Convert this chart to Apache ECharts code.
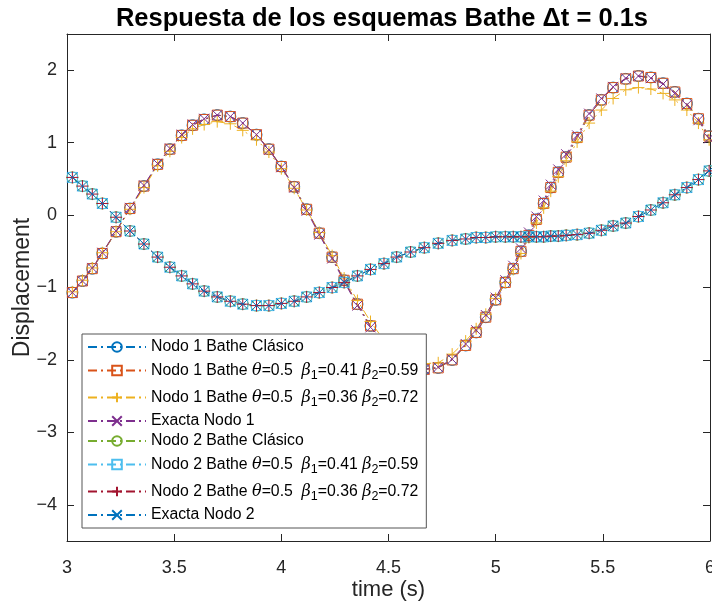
<!DOCTYPE html>
<html>
<head>
<meta charset="utf-8">
<script src="https://cdn.jsdelivr.net/npm/echarts@6/dist/echarts.min.js"></script>
<style>
  html, body { margin: 0; padding: 0; background: #fff; }
  #chart { width: 712px; height: 605px; }
</style>
</head>
<body>
<div id="chart"></div>
<script>
// time samples (s), shared by every series
const time = [3.025, 3.072, 3.118, 3.165, 3.229, 3.294, 3.359, 3.423, 3.480, 3.535,
  3.586, 3.640, 3.701, 3.762, 3.820, 3.884, 3.942, 4.000, 4.060, 4.118,
  4.177, 4.237, 4.293, 4.355, 4.416, 4.479, 4.538, 4.603, 4.667, 4.732,
  4.797, 4.860, 4.909, 4.954, 5.000, 5.045, 5.082, 5.118, 5.155, 5.190,
  5.224, 5.257, 5.292, 5.329, 5.380, 5.436, 5.493, 5.548, 5.607, 5.666,
  5.724, 5.781, 5.836, 5.892, 5.946, 5.996];

// Nodo 1
const node1Clasico = [-1.07, -0.91, -0.74, -0.53, -0.23, 0.09, 0.40, 0.70, 0.91, 1.10,
  1.24, 1.32, 1.38, 1.36, 1.27, 1.11, 0.91, 0.67, 0.39, 0.08,
  -0.25, -0.58, -0.90, -1.23, -1.53, -1.81, -1.97, -2.08, -2.13, -2.11,
  -2.00, -1.80, -1.62, -1.41, -1.17, -0.93, -0.74, -0.50, -0.28, -0.06,
  0.16, 0.38, 0.59, 0.80, 1.07, 1.38, 1.59, 1.76, 1.88, 1.92,
  1.90, 1.82, 1.70, 1.54, 1.33, 1.09];
const node1B41 = node1Clasico;
const node1B36 = [-1.06, -0.90, -0.73, -0.52, -0.23, 0.08, 0.38, 0.68, 0.88, 1.07,
  1.19, 1.25, 1.29, 1.26, 1.17, 1.04, 0.87, 0.64, 0.37, 0.07,
  -0.24, -0.56, -0.87, -1.18, -1.47, -1.73, -1.90, -2.00, -2.05, -2.04,
  -1.92, -1.74, -1.57, -1.37, -1.15, -0.93, -0.75, -0.53, -0.31, -0.11,
  0.10, 0.33, 0.53, 0.75, 1.01, 1.27, 1.45, 1.61, 1.73, 1.76,
  1.74, 1.68, 1.59, 1.45, 1.27, 1.04];
const node1Exacta = [-1.07, -0.91, -0.73, -0.52, -0.22, 0.10, 0.41, 0.71, 0.92, 1.11,
  1.25, 1.33, 1.38, 1.36, 1.27, 1.11, 0.90, 0.66, 0.38, 0.06,
  -0.27, -0.60, -0.92, -1.25, -1.55, -1.82, -1.98, -2.08, -2.13, -2.10,
  -1.99, -1.78, -1.59, -1.38, -1.14, -0.90, -0.70, -0.46, -0.24, -0.02,
  0.20, 0.42, 0.63, 0.84, 1.10, 1.40, 1.61, 1.77, 1.89, 1.92,
  1.89, 1.81, 1.68, 1.52, 1.31, 1.06];

// Nodo 2 (all schemes overlap)
const node2 = [0.52, 0.40, 0.29, 0.16, -0.03, -0.22, -0.40, -0.58, -0.72, -0.84,
  -0.95, -1.05, -1.13, -1.19, -1.23, -1.25, -1.25, -1.22, -1.19, -1.13,
  -1.07, -1.00, -0.93, -0.84, -0.75, -0.67, -0.58, -0.51, -0.45, -0.39,
  -0.35, -0.33, -0.31, -0.31, -0.30, -0.30, -0.30, -0.30, -0.30, -0.30,
  -0.30, -0.29, -0.29, -0.28, -0.27, -0.25, -0.21, -0.15, -0.11, -0.02,
  0.07, 0.17, 0.28, 0.38, 0.49, 0.61];

const xTicks = [3, 3.5, 4, 4.5, 5, 5.5, 6];
const yTicks = [-4, -3, -2, -1, 0, 1, 2];

const names = [
  'Nodo 1 Bathe Clásico',
  'Nodo 1 Bathe θ=0.5  β1=0.41 β2=0.59',
  'Nodo 1 Bathe θ=0.5  β1=0.36 β2=0.72',
  'Exacta Nodo 1',
  'Nodo 2 Bathe Clásico',
  'Nodo 2 Bathe θ=0.5  β1=0.41 β2=0.59',
  'Nodo 2 Bathe θ=0.5  β1=0.36 β2=0.72',
  'Exacta Nodo 2'
];
const colors = ['#0072BD', '#D95319', '#EDB120', '#7E2F8E', '#77AC30', '#4DBEEE', '#A2142F', '#0072BD'];

const PLUS = 'path://M0,5L10,5M5,0L5,10';
const CROSS = 'path://M0,0L10,10M10,0L0,10';
const marks = ['circle', 'rect', PLUS, CROSS, 'circle', 'rect', PLUS, CROSS];
const sizes = [11, 10, 12, 10, 11, 10, 12, 10];
const values = [node1Clasico, node1B41, node1B36, node1Exacta, node2, node2, node2, node2];

const axisColor = '#262626';
const font = 'Liberation Sans';

const myChart = echarts.init(document.getElementById('chart'));

const series = names.map((name, i) => ({
  name: name,
  type: 'line',
  data: time.map((t, k) => [t, values[i][k]]),
  symbol: marks[i],
  symbolSize: sizes[i],
  showAllSymbol: true,
  lineStyle: { color: colors[i], width: 1, type: [9, 4, 2, 4] },
  itemStyle: { color: 'rgba(0,0,0,0)', borderColor: colors[i], borderWidth: 1 },
  emphasis: { disabled: true }
}));

const legendText = (name) =>
  name.replace('θ', '{g|θ}').replace(/β(\d)/g, '{g|β}{s|$1}');
const minus = (v) => String(v).replace('-', '−');

const tickAxis = (extra) => Object.assign({
  type: 'value',
  nameMoveOverlap: false,
  axisLine: { show: true, onZero: false, lineStyle: { color: axisColor, width: 1 } },
  axisTick: { show: true, inside: true, length: 7, lineStyle: { color: axisColor } },
  splitLine: { show: false }
}, extra);

const option = {
  animation: false,
  backgroundColor: '#fff',
  title: {
    text: 'Respuesta de los esquemas Bathe Δt = 0.1s',
    left: 377,
    textAlign: 'center',
    top: 1,
    textStyle: { fontFamily: font, fontSize: 25.5, fontWeight: 'bold', color: '#000' }
  },
  grid: { left: 67, right: 2, top: 34, bottom: 64, outerBoundsMode: 'none' },
  legend: {
    orient: 'vertical',
    left: 82,
    top: 334,
    data: names,
    backgroundColor: '#fff',
    borderColor: '#555',
    borderWidth: 1,
    borderRadius: 0,
    padding: [5, 8, 5, 5],
    itemWidth: 58,
    itemHeight: 12,
    itemGap: 4,
    formatter: legendText,
    textStyle: {
      fontFamily: font, fontSize: 15.8, color: '#000', lineHeight: 16,
      rich: {
        g: { fontFamily: 'DejaVu Serif', fontStyle: 'italic', fontSize: 16, lineHeight: 16 },
        s: { fontFamily: font, fontSize: 12.5, lineHeight: 23, verticalAlign: 'bottom' }
      }
    }
  },
  xAxis: [
    tickAxis({
      min: 3, max: 6, interval: 0.5,
      name: 'time (s)', nameLocation: 'middle', nameGap: 38,
      nameTextStyle: { fontFamily: font, fontSize: 22, color: axisColor },
      axisLabel: { fontFamily: font, fontSize: 18, color: axisColor, margin: 18 }
    }),
    tickAxis({ min: 3, max: 6, interval: 0.5, position: 'top', axisLabel: { show: false } })
  ],
  yAxis: [
    tickAxis({
      min: -4.5, max: 2.5,
      name: 'Displacement', nameLocation: 'middle', nameGap: 33,
      nameTextStyle: { fontFamily: font, fontSize: 23, color: axisColor },
      axisTick: { show: true, inside: true, length: 7, customValues: yTicks, lineStyle: { color: axisColor } },
      axisLabel: { fontFamily: font, fontSize: 18, color: axisColor, margin: 10, customValues: yTicks, formatter: minus }
    }),
    tickAxis({
      min: -4.5, max: 2.5, position: 'right',
      axisTick: { show: true, inside: true, length: 7, customValues: yTicks, lineStyle: { color: axisColor } },
      axisLabel: { show: false }
    })
  ],
  series: series
};

myChart.setOption(option);
</script>
</body>
</html>
